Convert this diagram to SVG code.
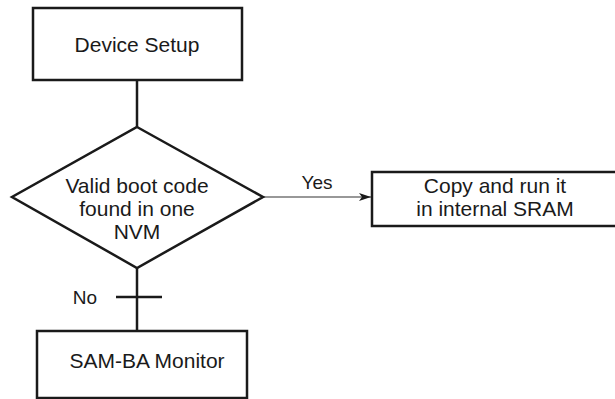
<svg xmlns="http://www.w3.org/2000/svg" width="615" height="399" viewBox="0 0 615 399">
<style>
.box{fill:#fff;stroke:#1a1a1a;stroke-width:2.5}
.t{font-family:"Liberation Sans",Arial,sans-serif;font-size:21px;fill:#1a1a1a;text-anchor:middle}
.lbl{font-family:"Liberation Sans",Arial,sans-serif;font-size:19px;fill:#1a1a1a;text-anchor:middle}
.ln{stroke:#1a1a1a;stroke-width:2.5;fill:none}
.thin{stroke:#333;stroke-width:1.2;fill:none}
</style>
<defs>
<marker id="ah" markerWidth="12" markerHeight="8" refX="12" refY="4" orient="auto" markerUnits="userSpaceOnUse">
<path d="M0,0 L12,4 L0,8 L3,4 Z" fill="#1a1a1a"/>
</marker>
</defs>
<rect width="615" height="399" fill="#fff"/>
<g id="connectors">
<line class="ln" x1="137" y1="80" x2="137" y2="127"/>
<line class="thin" x1="263" y1="197" x2="371" y2="197" marker-end="url(#ah)"/>
<line class="ln" x1="137" y1="268" x2="137" y2="331"/>
<line class="ln" x1="116" y1="297" x2="162" y2="297"/>
<text class="lbl" x="317" y="189">Yes</text>
<text class="lbl" x="85" y="304">No</text>
</g>
<g id="device-setup">
<rect class="box" x="33" y="8" width="209" height="72"/>
<text class="t" x="137" y="52">Device Setup</text>
</g>
<g id="decision">
<polygon class="box" points="137,127 263,197 137,268 12,197"/>
<text class="t" x="137" y="193">Valid boot code</text>
<text class="t" x="137" y="216">found in one</text>
<text class="t" x="137" y="239">NVM</text>
</g>
<g id="copy-run">
<rect class="box" x="372" y="172" width="250" height="54"/>
<text class="t" x="495" y="193">Copy and run it</text>
<text class="t" x="495" y="216">in internal SRAM</text>
</g>
<g id="sam-ba">
<rect class="box" x="37" y="331" width="210" height="67"/>
<text class="t" x="147" y="368">SAM-BA Monitor</text>
</g>
</svg>
